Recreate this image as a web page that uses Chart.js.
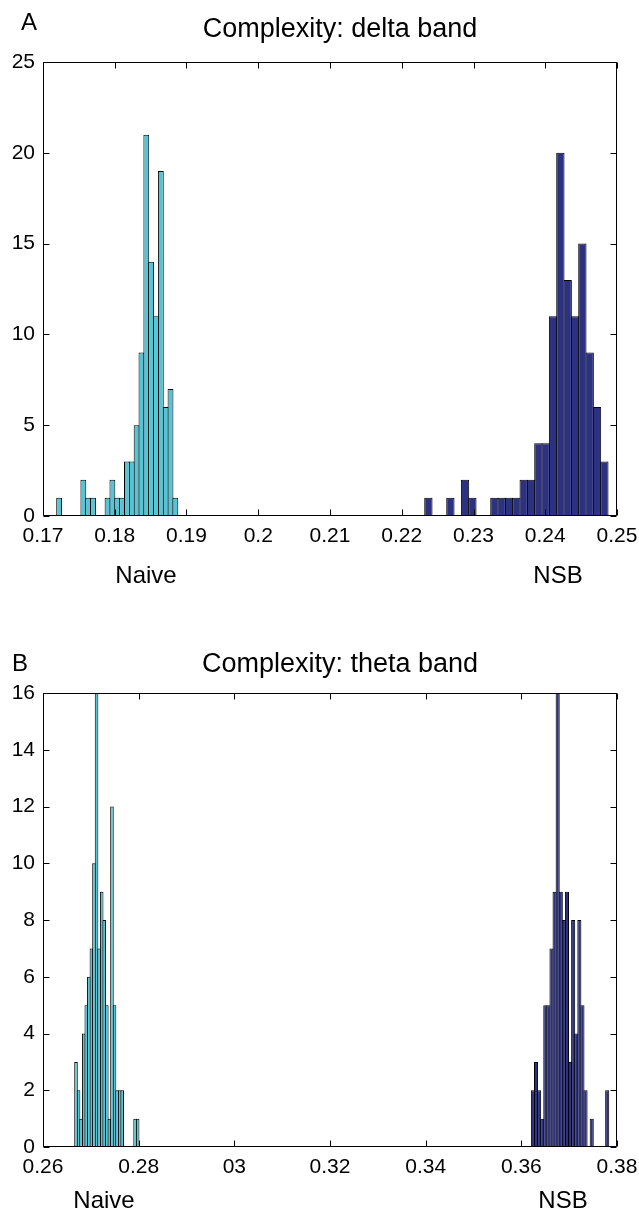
<!DOCTYPE html>
<html><head><meta charset="utf-8">
<script src="https://cdn.jsdelivr.net/npm/chart.js@4.4.1/dist/chart.umd.min.js"></script>
<style>
html,body{margin:0;padding:0;background:#fff;}
body{width:639px;height:1215px;position:relative;overflow:hidden;font-family:'Liberation Sans',Arial,sans-serif;color:#000;}
canvas{position:absolute;left:0;}
.t{position:absolute;white-space:nowrap;line-height:1;transform:translate(-50%,-50%);}
</style></head><body>
<canvas id="cA" width="639" height="600" style="top:0;width:639px;height:600px"></canvas>
<canvas id="cB" width="639" height="615" style="top:600px;width:639px;height:615px"></canvas>
<div class="t" style="left:29px;top:22px;font-size:24px">A</div>
<div class="t" style="left:340px;top:28px;font-size:27px">Complexity: delta band</div>
<div class="t" style="left:146px;top:575px;font-size:24px">Naive</div>
<div class="t" style="left:558px;top:575px;font-size:24px">NSB</div>
<div class="t" style="left:20px;top:663px;font-size:24px">B</div>
<div class="t" style="left:340px;top:663px;font-size:27px">Complexity: theta band</div>
<div class="t" style="left:104px;top:1200px;font-size:24px">Naive</div>
<div class="t" style="left:563px;top:1200px;font-size:24px">NSB</div>
<script>
// ---- Panel A: delta band ----
const binsNaiveA = [0.172247,0.172922,0.173597,0.174272,0.174947,0.175622,0.176297,0.176972,0.177647,0.178322,0.178997,0.179672,0.180347,0.181022,0.181697,0.182372,0.183047,0.183722,0.184397,0.185072,0.185747,0.186422,0.187097,0.187772,0.188447];
const countsNaiveA = [1,0,0,0,0,2,1,1,0,0,1,2,1,1,3,3,5,9,21,14,11,19,6,7,1];
const binsNsbA = [0.223711,0.224733,0.225755,0.226777,0.227799,0.228821,0.229843,0.230865,0.231887,0.232909,0.233931,0.234953,0.235975,0.236997,0.238019,0.239041,0.240063,0.241085,0.242107,0.243129,0.244151,0.245173,0.246195,0.247217,0.248239];
const countsNsbA = [1,0,0,1,0,2,1,0,0,1,1,1,1,2,2,4,4,11,20,13,11,15,9,6,3];
const xTicksA = [0.17,0.18,0.19,0.20,0.21,0.22,0.23,0.24,0.25];
const xTickLabelsA = ["0.17","0.18","0.19","0.2","0.21","0.22","0.23","0.24","0.25"];
const yTicksA = [0,5,10,15,20,25];
const yTickLabelsA = ["0","5","10","15","20","25"];

// ---- Panel B: theta band ----
const binsNaiveB = [0.266899,0.267436,0.267973,0.268510,0.269047,0.269584,0.270121,0.270658,0.271195,0.271732,0.272269,0.272806,0.273343,0.273880,0.274417,0.274954,0.275491,0.276028,0.276565,0.277102,0.277639,0.278176,0.278713,0.279250,0.279787];
const countsNaiveB = [3,2,1,4,5,6,7,10,16,7,9,8,5,1,12,5,2,2,2,0,0,0,0,1,1];
const binsNsbB = [0.362424,0.363071,0.363718,0.364365,0.365012,0.365659,0.366306,0.366953,0.367600,0.368247,0.368894,0.369541,0.370188,0.370835,0.371482,0.372129,0.372776,0.373423,0.374070,0.374717,0.375364,0.376011,0.376658,0.377305,0.377952];
const countsNsbB = [2,3,2,1,5,5,7,9,16,9,8,9,3,8,4,8,5,2,0,1,0,0,0,0,2];
const xTicksB = [0.26,0.28,0.30,0.32,0.34,0.36,0.38];
const xTickLabelsB = ["0.26","0.28","03","0.32","0.34","0.36","0.38"];
const yTicksB = [0,2,4,6,8,10,12,14,16];
const yTickLabelsB = ["0","2","4","6","8","10","12","14","16"];

const NAIVE_COLOR = '#57c4d5';
const NSB_COLOR = '#2c3181';
const FONT = {family: "'Liberation Sans', Arial, sans-serif", size: 21};

const boxTicks = {
  id: 'boxTicks',
  afterDatasetsDraw(chart) {
    const {ctx, chartArea: a, scales} = chart;
    const L = Math.round(a.left) + 0.5, R = Math.round(a.right) - 0.5;
    const T = Math.round(a.top) + 0.5, B = Math.round(a.bottom) - 0.5;
    const len = 6;
    ctx.save();
    ctx.strokeStyle = '#000';
    ctx.lineWidth = 1;
    ctx.beginPath();
    scales.x.ticks.forEach(t => {
      const px = Math.round(scales.x.getPixelForValue(t.value)) + 0.5;
      ctx.moveTo(px, B); ctx.lineTo(px, B - len);
      ctx.moveTo(px, T); ctx.lineTo(px, T + len);
    });
    scales.y.ticks.forEach(t => {
      const py = Math.round(scales.y.getPixelForValue(t.value)) + 0.5;
      ctx.moveTo(L, py); ctx.lineTo(L + len, py);
      ctx.moveTo(R, py); ctx.lineTo(R - len, py);
    });
    ctx.stroke();
    ctx.beginPath();
    ctx.rect(L, T, R - L, B - T);
    ctx.stroke();
    ctx.restore();
  }
};

function noPad(s) { s.paddingLeft = 0; s.paddingRight = 0; s.paddingTop = 0; s.paddingBottom = 0; }

function makeHist(canvasId, p) {
  const toPts = (bins, counts) => bins.map((b, i) => ({x: b, y: counts[i]}));
  const xBase = {
    type: 'linear', min: p.xMin, max: p.xMax, offset: false,
    grid: {display: false, drawTicks: false}, border: {display: false}
  };
  return new Chart(document.getElementById(canvasId), {
    type: 'bar',
    data: {
      datasets: [
        {label: 'Naive', data: toPts(p.binsN, p.countsN), xAxisID: 'x',
         backgroundColor: NAIVE_COLOR, borderColor: '#000', borderWidth: 1, grouped: false,
         categoryPercentage: 1, barPercentage: p.bpN, inflateAmount: 0},
        {label: 'NSB', data: toPts(p.binsS, p.countsS), xAxisID: 'x2',
         backgroundColor: NSB_COLOR, borderColor: '#000', borderWidth: 1, grouped: false,
         categoryPercentage: 1, barPercentage: p.bpS, inflateAmount: 0}
      ]
    },
    options: {
      responsive: false, animation: false, devicePixelRatio: 1,
      layout: {padding: {left: 0, right: 22, top: p.padTop, bottom: 0}},
      plugins: {legend: {display: false}, tooltip: {enabled: false}, title: {display: false}},
      scales: {
        x: Object.assign({}, xBase, {
          display: true, position: 'bottom',
          afterBuildTicks: s => { s.ticks = p.xTicks.map(v => ({value: v})); },
          afterFit: s => { s.height = p.xAxisH; noPad(s); },
          ticks: {color: '#000', font: FONT, padding: 8, maxRotation: 0, autoSkip: false,
                  callback: (v, i) => p.xLabels[i]}
        }),
        x2: Object.assign({}, xBase, {
          display: true, position: 'top',
          afterBuildTicks: s => { s.ticks = p.xTicks.map(v => ({value: v})); },
          afterFit: s => { s.height = 0; noPad(s); },
          ticks: {display: false}
        }),
        y: {
          type: 'linear', min: 0, max: p.yMax,
          grid: {display: false, drawTicks: false}, border: {display: false},
          afterBuildTicks: s => { s.ticks = p.yTicks.map(v => ({value: v})); },
          afterFit: s => { s.width = 43; noPad(s); },
          ticks: {color: '#000', font: FONT, padding: 8, autoSkip: false,
                  callback: (v, i) => p.yLabels[i]}
        }
      }
    },
    plugins: [boxTicks]
  });
}

makeHist('cA', {
  binsN: binsNaiveA, countsN: countsNaiveA, binsS: binsNsbA, countsS: countsNsbA,
  xMin: 0.17, xMax: 0.25, yMax: 25, xTicks: xTicksA, xLabels: xTickLabelsA,
  yTicks: yTicksA, yLabels: yTickLabelsA, padTop: 62, xAxisH: 84, bpN: 1.207, bpS: 1.136
});
makeHist('cB', {
  binsN: binsNaiveB, countsN: countsNaiveB, binsS: binsNsbB, countsS: countsNsbB,
  xMin: 0.26, xMax: 0.38, yMax: 16, xTicks: xTicksB, xLabels: xTickLabelsB,
  yTicks: yTicksB, yLabels: yTickLabelsB, padTop: 93, xAxisH: 68, bpN: 1.389, bpS: 1.323
});
</script>
</body></html>
